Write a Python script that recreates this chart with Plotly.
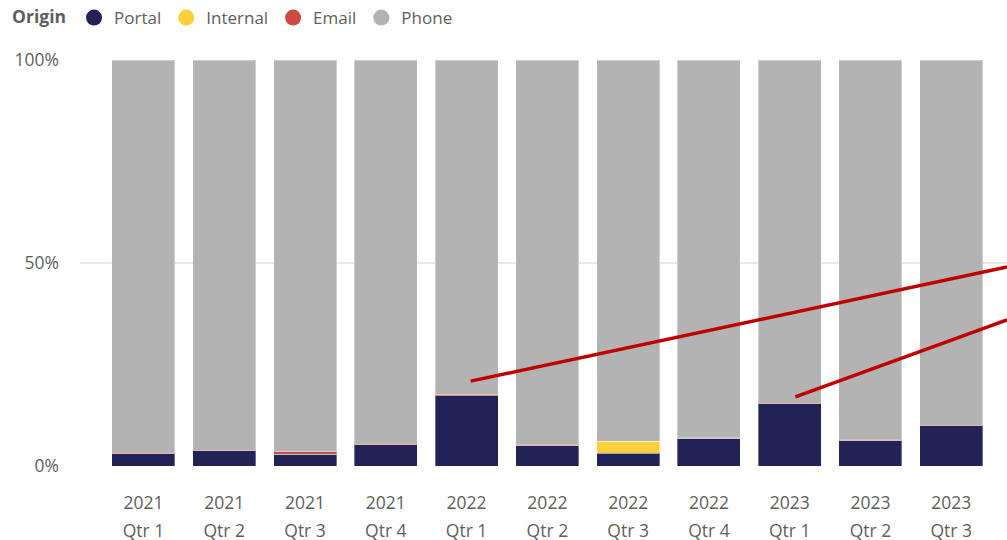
import plotly.graph_objects as go

years = ["2021", "2021", "2021", "2021", "2022", "2022", "2022", "2022", "2023", "2023", "2023"]
quarters = ["Qtr 1", "Qtr 2", "Qtr 3", "Qtr 4", "Qtr 1", "Qtr 2", "Qtr 3", "Qtr 4", "Qtr 1", "Qtr 2", "Qtr 3"]
categories = [f"{y} {q}" for y, q in zip(years, quarters)]

portal = [3.0, 3.7, 2.9, 5.2, 17.3, 5.1, 3.1, 6.8, 15.3, 6.3, 9.9]
internal = [0.0, 0.0, 0.0, 0.0, 0.0, 0.0, 3.0, 0.0, 0.0, 0.0, 0.0]
email = [0.2, 0.2, 0.6, 0.2, 0.2, 0.3, 0.0, 0.1, 0.1, 0.3, 0.1]
phone = [96.8, 96.1, 96.5, 94.6, 82.5, 94.6, 93.9, 93.1, 84.6, 93.4, 90.0]

y_tickvals = [0, 50, 100]
y_ticktext = ["0%", "50%", "100%"]

series = [
    ("Portal", portal, "#232257"),
    ("Internal", internal, "#FDD03B"),
    ("Email", email, "#D04A45"),
    ("Phone", phone, "#B3B3B3"),
]

# annotation arrows (x in category index units, y in %)
red_lines = [
    (4.05, 20.9, 10.69, 49.0),
    (8.07, 17.0, 10.69, 36.0),
]

FONT = "Segoe UI, Open Sans, sans-serif"
GRAY = "#605E5C"

fig = go.Figure()
for name, vals, color in series:
    fig.add_trace(go.Bar(
        x=categories, y=vals, name=name, marker_color=color,
        marker_line=dict(width=1, color="rgba(255,255,255,0.35)"),
        showlegend=False,
    ))
for name, vals, color in series:
    fig.add_trace(go.Scatter(
        x=[None], y=[None], mode="markers", name=name,
        marker=dict(symbol="circle", size=18, color=color),
        showlegend=True,
    ))

# helper trace so the second (quarter) label axis is drawn
fig.add_trace(go.Scatter(x=[0], y=[None], xaxis="x2", mode="markers",
                         showlegend=False, hoverinfo="skip"))

shapes = []
for x0, y0, x1, y1 in red_lines:
    shapes.append(dict(type="line", xref="x", yref="y", x0=x0, y0=y0, x1=x1, y1=y1,
                       line=dict(color="#C00000", width=3.5), layer="above"))

x_range = [-0.786, 10.69]

fig.update_layout(
    width=1007, height=540,
    margin=dict(l=80, r=0, t=60, b=74),
    barmode="stack", bargap=0.22,
    plot_bgcolor="white", paper_bgcolor="white",
    font=dict(family=FONT, color=GRAY, size=17),
    shapes=shapes,
    legend=dict(
        orientation="h", x=0.01, y=1, xref="container", yref="container",
        xanchor="left", yanchor="top", traceorder="normal",
        title=dict(text="<b>Origin</b>", font=dict(size=17.5, color=GRAY)),
        font=dict(size=17, color=GRAY),
        itemwidth=30, tracegroupgap=0,
    ),
    xaxis=dict(
        range=x_range, tickmode="array", tickvals=categories, ticktext=years,
        showgrid=False, zeroline=False, showline=False, ticks="",
        tickfont=dict(size=17.5, color=GRAY), ticklabelstandoff=24,
    ),
    xaxis2=dict(
        overlaying="x", anchor="y", side="bottom", range=x_range, type="linear",
        tickmode="array", tickvals=list(range(len(quarters))), ticktext=quarters,
        showgrid=False, zeroline=False, showline=False, ticks="", visible=True,
        showticklabels=True, automargin=False,
        tickfont=dict(size=17.5, color=GRAY), ticklabelstandoff=52,
    ),
    yaxis=dict(
        range=[0, 100], tickmode="array", tickvals=y_tickvals, ticktext=y_ticktext,
        showgrid=True, gridcolor="#E8E8E8", gridwidth=1.5,
        zeroline=False, showline=False, ticks="",
        tickfont=dict(size=17.5, color=GRAY), ticklabelstandoff=20,
    ),
)

fig.write_html("out.html")
